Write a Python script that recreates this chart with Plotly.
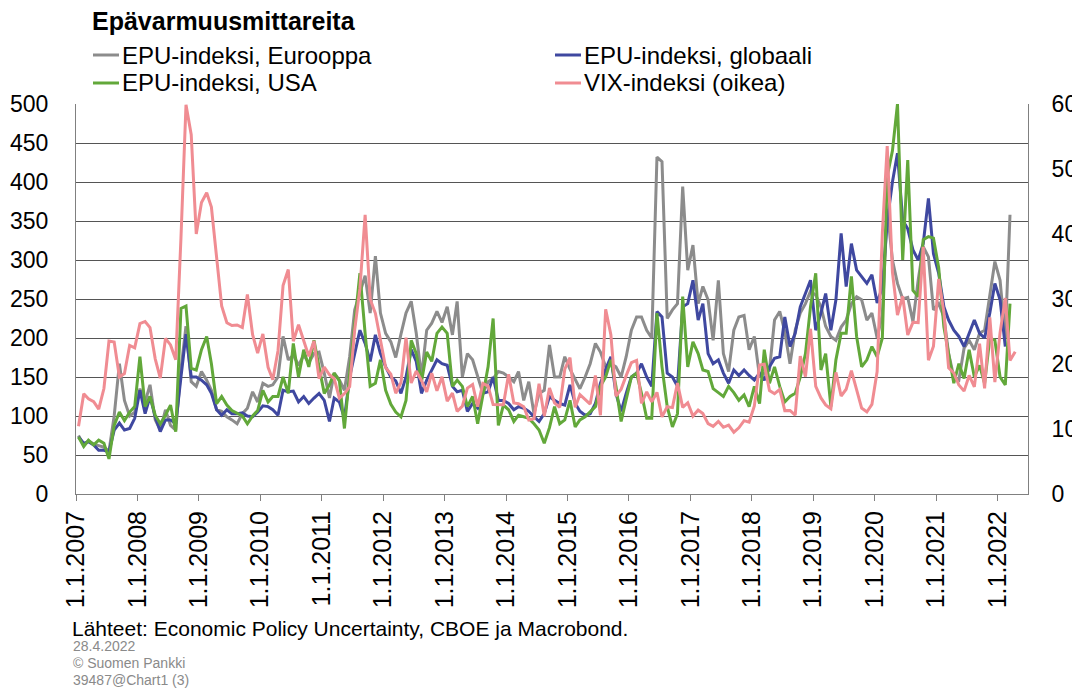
import pandas as pd
import plotly.graph_objects as go

# Monthly data, Jan 2007 onwards
epu_europe = [
    75, 62, 68, 64, 62, 60, 55, 100, 167, 120, 100, 105,
    135, 118, 140, 95, 82, 108, 88, 82, 160, 215, 144, 138,
    157, 146, 133, 108, 106, 99, 95, 90, 103, 110, 131, 118,
    142, 138, 140, 150, 202, 172, 178, 165, 178, 168, 180, 182,
    155, 123, 155, 146, 133, 176, 236, 257, 280, 232, 305, 232,
    206, 195, 175, 205, 232, 247, 206, 150, 210, 219, 234, 220,
    240, 204, 247, 150, 180, 172, 150, 129, 144, 148, 157, 155,
    150, 144, 157, 120, 144, 103, 129, 133, 191, 150, 150, 176,
    160, 146, 135, 150, 167, 193, 182, 163, 167, 163, 150, 176,
    210, 227, 227, 210, 200, 432, 426, 225, 236, 244, 394, 287,
    319, 244, 266, 249, 197, 274, 180, 157, 210, 227, 229, 185,
    202, 150, 155, 159, 223, 234, 208, 167, 210, 232, 244, 260,
    255, 240, 215, 202, 197, 214, 223, 244, 253, 249, 223, 232,
    200, 230, 365, 300, 270, 250, 252, 221, 274, 317, 304, 236,
    244, 227, 180, 150, 146, 187, 197, 185, 206, 210, 257, 298,
    274, 200, 358,
]

epu_global = [
    73, 65, 67, 63, 56, 56, 54, 82, 91, 82, 84, 97,
    133, 103, 125, 99, 80, 95, 95, 90, 150, 205, 150, 150,
    146, 140, 129, 108, 101, 108, 103, 103, 104, 100, 99, 105,
    113, 112, 108, 101, 133, 131, 132, 118, 125, 116, 123, 129,
    120, 93, 123, 118, 97, 150, 180, 210, 193, 170, 204, 180,
    163, 150, 145, 129, 150, 185, 170, 129, 146, 159, 172, 167,
    165, 138, 131, 133, 106, 116, 110, 129, 131, 150, 120, 120,
    116, 108, 112, 110, 106, 99, 93, 103, 125, 120, 116, 114,
    140, 116, 106, 101, 103, 116, 142, 160, 176, 129, 106, 129,
    150, 155, 167, 150, 138, 234, 227, 155, 150, 138, 240, 244,
    274, 223, 244, 180, 167, 172, 155, 142, 159, 152, 159, 152,
    146, 155, 146, 163, 174, 176, 227, 189, 206, 240, 257, 274,
    210, 232, 257, 210, 249, 334, 266, 321, 287, 279, 270, 281,
    245, 265, 350, 400, 437, 351, 340, 313, 300, 321, 379, 308,
    283, 240, 223, 210, 202, 189, 206, 223, 206, 200, 232, 270,
    249, 189,
]

epu_usa = [
    73, 61, 69, 63, 69, 65, 45, 88, 105, 94, 105, 112,
    176, 112, 125, 101, 90, 101, 114, 80, 238, 241, 161, 159,
    185, 202, 167, 116, 125, 114, 107, 104, 100, 90, 100, 107,
    133, 118, 125, 125, 150, 129, 193, 150, 185, 163, 197, 163,
    129, 140, 155, 145, 84, 155, 214, 283, 206, 138, 142, 172,
    133, 115, 105, 99, 120, 197, 180, 144, 182, 170, 206, 214,
    206, 138, 146, 138, 112, 125, 90, 129, 163, 225, 88, 114,
    108, 93, 101, 99, 97, 90, 82, 65, 85, 112, 90, 95,
    120, 86, 95, 99, 106, 112, 138, 150, 172, 138, 93, 120,
    150, 155, 129, 97, 97, 232, 163, 112, 86, 103, 253, 163,
    195, 180, 159, 157, 135, 130, 125, 138, 130, 120, 127, 112,
    138, 116, 185, 142, 163, 138, 118, 125, 129, 150, 180, 240,
    283, 159, 180, 112, 172, 206, 206, 279, 202, 163, 172, 189,
    176, 200, 407, 440, 500, 300, 428, 261, 253, 326, 330, 328,
    290, 214, 180, 142, 167, 148, 185, 150, 165, 142, 200, 197,
    150, 140, 244,
]

vix = [
    10.42, 15.42, 14.64, 14.22, 13.05, 16.23, 23.52, 23.38, 18.00, 18.53, 22.87, 22.50,
    26.20, 26.54, 25.61, 20.79, 17.83, 23.95, 22.94, 20.65, 39.39, 59.89, 55.28, 40.00,
    44.84, 46.35, 44.14, 36.50, 28.92, 26.35, 25.92, 26.01, 25.61, 30.69, 24.51, 21.68,
    24.62, 19.50, 17.59, 22.05, 32.07, 34.54, 23.50, 26.05, 23.70, 21.20, 23.54, 17.75,
    19.53, 18.35, 17.74, 14.75, 15.45, 16.52, 25.25, 31.62, 42.96, 29.96, 27.80, 23.40,
    19.44, 18.43, 15.50, 17.15, 24.06, 17.08, 18.93, 17.47, 15.73, 18.60, 15.87, 18.02,
    14.28, 15.51, 12.70, 13.52, 16.30, 16.86, 13.45, 17.01, 16.60, 13.75, 13.70, 13.72,
    18.41, 14.00, 13.88, 13.41, 11.40, 11.57, 16.95, 11.98, 16.31, 14.03, 13.33, 19.20,
    20.97, 13.34, 15.29, 14.55, 13.84, 18.23, 12.12, 28.43, 24.50, 15.07, 16.13, 18.21,
    20.20, 20.55, 13.95, 15.70, 14.19, 15.63, 11.87, 13.42, 13.29, 17.06, 13.33, 14.04,
    11.99, 12.92, 12.37, 10.82, 10.41, 11.18, 10.26, 10.59, 9.51, 10.18, 11.28, 11.04,
    13.54, 19.85, 19.97, 15.93, 15.43, 16.09, 12.83, 12.86, 12.12, 21.23, 18.07, 25.42,
    16.57, 14.78, 13.71, 13.12, 18.71, 15.08, 16.12, 18.98, 16.24, 13.22, 12.62, 13.78,
    18.84, 40.11, 53.54, 34.15, 27.51, 30.43, 24.46, 26.41, 26.37, 38.02, 20.57, 22.75,
    33.09, 27.95, 19.40, 18.61, 16.76, 15.83, 18.24, 16.48, 23.14, 16.26, 27.19, 17.22,
    24.83, 30.15, 20.56, 21.90,
]

years = list(range(2007, 2023))
tick_vals = [f"{y}-01-01" for y in years]
tick_text = [f"1.1.{y}" for y in years]

names = ["EPU-indeksi, Eurooppa", "EPU-indeksi, globaali", "EPU-indeksi, USA", "VIX-indeksi (oikea)"]
colors = ["#8c8c8c", "#3f48a0", "#62a83a", "#f08c92"]

# The page body has an 8 px margin, so the figure is drawn 8 px smaller
OFF = 8
W, H = 1080 - OFF, 692 - OFF
# plot area in page pixels
L, R, T, B = 76, 1028, 104, 494
PW, PH = R - L, B - T


def px_x(px):
    return (px - L) / PW


def px_y(py):
    return (B - py) / PH


def month_dates(n):
    # points sit in the middle of each month slot
    return pd.date_range("2007-01-01", periods=n, freq="MS") + pd.Timedelta(days=15)


FONT = "Arial, Liberation Sans, sans-serif"

fig = go.Figure()
series = [epu_europe, epu_global, epu_usa]
for vals, name, col in zip(series, names[:3], colors[:3]):
    fig.add_trace(go.Scatter(x=month_dates(len(vals)), y=vals, name=name, mode="lines",
                             line=dict(color=col, width=3), showlegend=False))
fig.add_trace(go.Scatter(x=month_dates(len(vix)), y=vix, name=names[3], mode="lines",
                         line=dict(color=colors[3], width=3), yaxis="y2", showlegend=False))

fig.update_layout(
    width=W, height=H,
    paper_bgcolor="white", plot_bgcolor="white",
    margin=dict(l=L - OFF, r=1080 - R, t=T - OFF, b=692 - B, autoexpand=False),
    font=dict(family=FONT, size=22, color="black"),
    title=dict(text="<b>Epävarmuusmittareita</b>", x=(92 - OFF) / W, xref="container",
               xanchor="left", y=1 - (21 - OFF) / H, yref="container", yanchor="middle",
               font=dict(family=FONT, size=25, color="black")),
    showlegend=False,
    xaxis=dict(type="date", range=["2007-01-01", "2022-07-01"],
               tickmode="array", tickvals=tick_vals, ticktext=tick_text, tickangle=-90,
               ticks="outside", ticklen=6, tickcolor="#808080", tickwidth=1,
               showline=True, linecolor="#808080", linewidth=1, showgrid=False,
               zeroline=False, tickfont=dict(family=FONT, size=25, color="black")),
    yaxis=dict(range=[0, 500], dtick=50, tick0=0, showgrid=True, gridcolor="#555555", gridwidth=1,
               showline=True, linecolor="#808080", linewidth=1, zeroline=False, ticks="",
               ticklabelstandoff=22, tickfont=dict(family=FONT, size=23, color="black")),
    yaxis2=dict(range=[0, 60], dtick=10, tick0=0, overlaying="y", side="right", showgrid=False,
                showline=True, linecolor="#808080", linewidth=1, zeroline=False, ticks="",
                ticklabelstandoff=18, tickfont=dict(family=FONT, size=23, color="black")),
)

# legend drawn as two columns (Excel-style)
legend_pos = [(93, 55), (555, 55), (93, 83), (555, 83)]
for (lx, ly), name, col in zip(legend_pos, names, colors):
    fig.add_shape(type="line", xref="paper", yref="paper",
                  x0=px_x(lx), x1=px_x(lx + 26), y0=px_y(ly), y1=px_y(ly),
                  line=dict(color=col, width=3))
    fig.add_annotation(text=name, xref="paper", yref="paper", x=px_x(lx + 27), y=px_y(ly),
                       xanchor="left", yanchor="middle", showarrow=False,
                       font=dict(family=FONT, size=24, color="black"))

fig.add_annotation(text="Lähteet: Economic Policy Uncertainty, CBOE ja Macrobond.",
                   xref="paper", yref="paper", x=px_x(70), y=px_y(628),
                   xanchor="left", yanchor="middle", showarrow=False,
                   font=dict(family=FONT, size=21, color="black"))
footer_lines = ["28.4.2022", "© Suomen Pankki", "39487@Chart1 (3)"]
for i, line in enumerate(footer_lines):
    fig.add_annotation(text=line, xref="paper", yref="paper", x=px_x(71),
                       y=px_y(646 + 17 * i), xanchor="left", yanchor="middle",
                       showarrow=False,
                       font=dict(family=FONT, size=14, color="#8a8a8a"))

fig.write_html("out.html")
